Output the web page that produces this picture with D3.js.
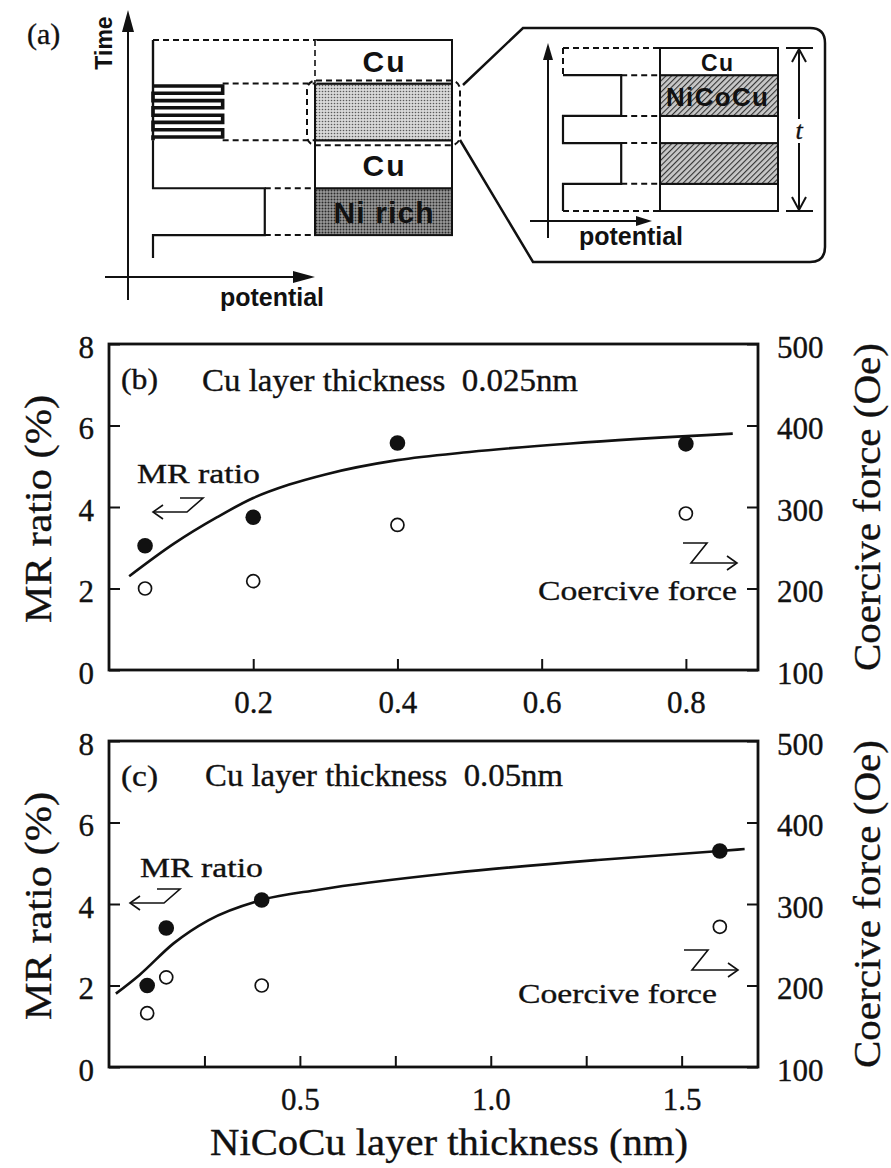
<!DOCTYPE html>
<html>
<head>
<meta charset="utf-8">
<title>MR ratio and coercive force vs NiCoCu layer thickness</title>
<script src="https://d3js.org/d3.v7.min.js"></script>
<style>
    body { margin: 0; background: #fff; }
    svg { display: block; }
    .serif { font-family: "Liberation Serif", "Times New Roman", serif; fill: #111; stroke: #111; stroke-width: 0.35; }
    .sans { font-family: "Liberation Sans", Arial, sans-serif; font-weight: bold; fill: #111; }
</style>
</head>
<body>
<div id="chart"></div>
<script>
    // panel (b): Cu layer thickness 0.025 nm
    var thickB = [0.05, 0.2, 0.4, 0.8];
    var mrB = [3.05, 3.75, 5.57, 5.55];
    var hcB = [200, 209, 278, 292];
    var fitThickB = [0.028, 0.09, 0.15, 0.2, 0.25, 0.3, 0.4, 0.5, 0.64, 0.865];
    var fitMrB = [2.3, 3.1, 3.75, 4.22, 4.55, 4.8, 5.15, 5.35, 5.56, 5.8];

    // panel (c): Cu layer thickness 0.05 nm
    var thickC = [0.1, 0.15, 0.4, 1.6];
    var mrC = [2.0, 3.41, 4.1, 5.3];
    var hcC = [166, 210, 200, 272];
    var fitThickC = [0.018, 0.08, 0.17, 0.26, 0.4, 0.55, 0.9, 1.28, 1.6, 1.665];
    var fitMrC = [1.8, 2.26, 3.04, 3.6, 4.1, 4.35, 4.76, 5.08, 5.3, 5.35];

    var ticksB = [0.2, 0.4, 0.6, 0.8];
    var ticksC = [0.25, 0.5, 0.75, 1.0, 1.25, 1.5];
    var ticksMR = [0, 2, 4, 6, 8];
    var ticksHc = [100, 200, 300, 400, 500];

    // panel (a): schematic of the deposition sequence (bottom to top)
    var layerNamesA = ["Ni rich", "Cu", "", "Cu"];
    var layerFillA = ["dark", "white", "light", "white"];
    var layerTimeA = [10.5, 32, 54, 80, 100];
    var layerPotA = [0.69, 0, 0.43, 0];
    var pulseTimeA = [55.5, 58.8, 62.2, 65.5, 68.9, 72.2, 75.6, 78.9];
    var insetNames = ["", "", "", "NiCoCu", "Cu"];
    var insetFill = ["white", "hatch", "white", "hatch", "white"];
    var insetTime = [0, 1, 2.5, 3.5, 5, 6];
    var insetPot = [0, 0.6, 0, 0.6, 0];

    var W = 891, H = 1168, INK = "#111";
    var svg = d3.select("#chart").append("svg").attr("width", W).attr("height", H);
    var defs = svg.append("defs");

    function dotPattern(id, bg, dot, r) {
        var p = defs.append("pattern").attr("id", id).attr("width", 3).attr("height", 3)
            .attr("patternUnits", "userSpaceOnUse");
        p.append("rect").attr("width", 3).attr("height", 3).attr("fill", bg);
        p.append("circle").attr("cx", 1.5).attr("cy", 1.5).attr("r", r).attr("fill", dot);
    }
    dotPattern("light", "#d8d8d8", "#5a5a5a", 0.8);
    dotPattern("dark", "#9a9a9a", "#2a2a2a", 1.0);
    var hp = defs.append("pattern").attr("id", "hatch").attr("width", 4).attr("height", 4)
        .attr("patternUnits", "userSpaceOnUse").attr("patternTransform", "rotate(45)");
    hp.append("rect").attr("width", 4).attr("height", 4).attr("fill", "#c8c8c8");
    hp.append("line").attr("x1", 0).attr("y1", 0).attr("x2", 0).attr("y2", 4)
        .attr("stroke", "#333").attr("stroke-width", 2.2);

    function fillOf(k) {
        return k == "white" ? "#fff" : "url(#" + k + ")";
    }

    function line(g, pts, dashed, w) {
        g.append("path").attr("d", d3.line()(pts)).attr("fill", "none")
            .attr("stroke", INK).attr("stroke-width", w || 2)
            .attr("stroke-dasharray", dashed ? "6,4" : null);
    }

    function tri(g, pts) {
        g.append("path").attr("d", d3.line()(pts) + "Z").attr("fill", INK);
    }

    // ---------- (a) ----------
    var ga = svg.append("g");
    var aT = d3.scaleLinear().domain([0, 100]).range([258, 40]);
    var aP = d3.scaleLinear().domain([0, 1]).range([153, 315]);
    var boxR = 452;

    ga.append("text").attr("class", "serif").attr("x", 27).attr("y", 44)
        .attr("font-size", 30).text("(a)");

    // layer stack
    layerNamesA.forEach(function(name, i) {
        var y0 = aT(layerTimeA[i + 1]), y1 = aT(layerTimeA[i]);
        ga.append("rect").attr("x", aP(1)).attr("y", y0).attr("width", boxR - aP(1))
            .attr("height", y1 - y0).attr("fill", fillOf(layerFillA[i]))
            .attr("stroke", INK).attr("stroke-width", 2);
        if (name)
            ga.append("text").attr("class", "sans").attr("x", (aP(1) + boxR) / 2)
                .attr("y", y1 - 12).attr("text-anchor", "middle").attr("font-size", 30)
                .attr("textLength", name.length > 3 ? 100 : 42).text(name);
    });
    // top cu layer has a dashed left edge
    ga.append("line").attr("x1", aP(1)).attr("x2", aP(1)).attr("y1", aT(100)).attr("y2", aT(80))
        .attr("stroke", "#fff").attr("stroke-width", 3);
    line(ga, [[aP(1), aT(100)], [aP(1), aT(80)]], true, 1.6);

    // waveform: Ni rich pulse, Cu, pulse train, Cu
    var wave = [[aP(0), aT(0)], [aP(0), aT(layerTimeA[0])],
        [aP(layerPotA[0]), aT(layerTimeA[0])], [aP(layerPotA[0]), aT(layerTimeA[1])],
        [aP(0), aT(layerTimeA[1])], [aP(0), aT(layerTimeA[2])]];
    line(ga, wave, false, 2.2);
    var train = [[aP(0), aT(layerTimeA[2])]];
    pulseTimeA.forEach(function(t, k) {
        var a = k % 2 == 0 ? 0 : layerPotA[2], b = k % 2 == 0 ? layerPotA[2] : 0;
        train.push([aP(a), aT(t)], [aP(b), aT(t)]);
    });
    line(ga, train, false, 3.6);
    line(ga, [[aP(0), aT(layerTimeA[2])], [aP(0), aT(100)]], false, 2.4);
    line(ga, [[aP(0), aT(100)], [aP(1), aT(100)]], true);
    [1, 2, 3].forEach(function(i) {
        var p = Math.max(layerPotA[i - 1], layerPotA[i]);
        line(ga, [[aP(p), aT(layerTimeA[i])], [aP(1), aT(layerTimeA[i])]], true);
    });
    line(ga, [[aP(layerPotA[0]), aT(layerTimeA[0])], [aP(1), aT(layerTimeA[0])]], true);

    // dashed zoom box round the multilayer
    ga.append("rect").attr("x", 307).attr("y", aT(layerTimeA[3]) - 3).attr("width", 153)
        .attr("height", aT(layerTimeA[2]) - aT(layerTimeA[3]) + 8).attr("rx", 9)
        .attr("fill", "none").attr("stroke", INK).attr("stroke-width", 2)
        .attr("stroke-dasharray", "6,4");

    // axes of (a)
    line(ga, [[128, 300], [128, 28]], false, 2);
    tri(ga, [[128, 10], [122, 32], [134, 32]]);
    line(ga, [[105, 277], [297, 277]], false, 2);
    tri(ga, [[315, 277], [293, 271], [293, 283]]);
    ga.append("text").attr("class", "sans").attr("font-size", 23)
        .attr("transform", "translate(112,43) rotate(-90)").attr("text-anchor", "middle").text("Time");
    ga.append("text").attr("class", "sans").attr("font-size", 25).attr("x", 272).attr("y", 306)
        .attr("text-anchor", "middle").text("potential");

    // callout
    ga.append("path").attr("d", "M463,85 L523,28 L810,28 Q825,28 825,43 L825,247 Q825,262 810,262 L533,262 L460,140")
        .attr("fill", "none").attr("stroke", INK).attr("stroke-width", 2.5);

    // inset
    var iT = d3.scaleLinear().domain([0, 6]).range([211, 48]);
    var iP = d3.scaleLinear().domain([0, 1]).range([563, 660]);
    var iR = 778;
    insetNames.forEach(function(name, i) {
        var y0 = iT(insetTime[i + 1]), y1 = iT(insetTime[i]);
        ga.append("rect").attr("x", iP(1)).attr("y", y0).attr("width", iR - iP(1))
            .attr("height", y1 - y0).attr("fill", fillOf(insetFill[i]))
            .attr("stroke", INK).attr("stroke-width", 2);
    });
    insetNames.forEach(function(name, i) {
        if (!name) return;
        var y1 = iT(insetTime[i]);
        ga.append("text").attr("class", "sans").attr("x", (iP(1) + iR) / 2 - 2)
            .attr("y", y1 - (name == "Cu" ? 4 : 10)).attr("text-anchor", "middle")
            .attr("font-size", name == "Cu" ? 23 : 26)
            .attr("textLength", name == "Cu" ? 32 : 102).text(name);
    });
    var iwave = [];
    insetPot.forEach(function(p, i) {
        iwave.push([iP(p), iT(insetTime[i])], [iP(p), iT(insetTime[i + 1])]);
    });
    iwave.pop();
    line(ga, iwave, false, 2.2);
    line(ga, [[iP(0), iT(6)], [iP(0), iT(5)]], true);
    line(ga, [[iP(0), iT(6)], [iP(1), iT(6)]], true);
    line(ga, [[iP(0), iT(0)], [iP(1), iT(0)]], true);
    [1, 2, 3, 4].forEach(function(i) {
        line(ga, [[iP(0.6), iT(insetTime[i])], [iP(1), iT(insetTime[i])]], true);
    });
    line(ga, [[548, 238], [548, 58]], false, 2);
    tri(ga, [[548, 43], [543, 60], [553, 60]]);
    line(ga, [[530, 221], [638, 221]], false, 2);
    tri(ga, [[652, 221], [636, 216], [636, 226]]);
    ga.append("text").attr("class", "sans").attr("font-size", 25).attr("x", 631).attr("y", 245)
        .attr("text-anchor", "middle").text("potential");

    // thickness t
    line(ga, [[786, iT(6)], [813, iT(6)]], false, 2);
    line(ga, [[786, iT(0)], [813, iT(0)]], false, 2);
    line(ga, [[799, iT(6) + 1], [799, 119]], false, 2);
    line(ga, [[799, 143], [799, iT(0) - 1]], false, 2);
    line(ga, [[792, iT(6) + 14], [799, iT(6) + 1], [806, iT(6) + 14]], false, 2);
    line(ga, [[792, iT(0) - 14], [799, iT(0) - 1], [806, iT(0) - 14]], false, 2);
    ga.append("text").attr("class", "serif").attr("font-style", "italic").attr("font-size", 26)
        .attr("x", 799).attr("y", 139).attr("text-anchor", "middle").text("t");

    // ---------- (b), (c) ----------
    function zArrow(g, x0, yTop, yBot, dir) {
        if (dir < 0) {
            line(g, [[x0 + 27, yTop], [x0 + 50, yTop], [x0 + 34, yBot], [x0, yBot]], false, 1.6);
            line(g, [[x0 + 10, yBot - 7], [x0, yBot], [x0 + 10, yBot + 7]], false, 1.6);
        } else {
            line(g, [[x0, yTop], [x0 + 24, yTop], [x0 + 8, yBot], [x0 + 54, yBot]], false, 1.6);
            line(g, [[x0 + 44, yBot - 7], [x0 + 54, yBot], [x0 + 44, yBot + 7]], false, 1.6);
        }
    }

    function txt(g, s, x, y, size, len, anchor) {
        return g.append("text").attr("class", "serif").attr("x", x).attr("y", y)
            .attr("font-size", size).attr("text-anchor", anchor || "start")
            .attr("textLength", len).attr("lengthAdjust", "spacingAndGlyphs")
            .attr("xml:space", "preserve").style("white-space", "pre").text(s);
    }

    function styleAxis(sel) {
        sel.select(".domain").remove();
        sel.attr("font-family", null).attr("font-size", null);
        sel.selectAll(".tick line").attr("stroke", INK).attr("stroke-width", 2);
        sel.selectAll(".tick text").attr("class", "serif").attr("font-size", 31);
    }

    function drawPanel(o) {
        var L = 109, R = 758;
        var x = d3.scaleLinear().domain(o.xDomain).range([L, R]);
        var yL = d3.scaleLinear().domain([0, 8]).range([o.bottom, o.top]);
        var yR = d3.scaleLinear().domain([100, 500]).range([o.bottom, o.top]);
        var g = svg.append("g");

        g.append("g").attr("transform", "translate(0," + o.bottom + ")")
            .call(d3.axisBottom(x).tickValues(o.xTicks).tickFormat(o.xFormat)
                .tickSizeInner(-11).tickSizeOuter(0).tickPadding(21))
            .call(styleAxis);
        g.append("g").attr("transform", "translate(" + L + ",0)")
            .call(d3.axisLeft(yL).tickValues(ticksMR).tickFormat(d3.format("d"))
                .tickSizeInner(-11).tickSizeOuter(0).tickPadding(15))
            .call(styleAxis)
            .selectAll(".tick text").attr("dy", "0.42em");
        g.append("g").attr("transform", "translate(" + R + ",0)")
            .call(d3.axisRight(yR).tickValues(ticksHc).tickFormat(d3.format("d"))
                .tickSizeInner(-11).tickSizeOuter(0).tickPadding(19))
            .call(styleAxis)
            .selectAll(".tick text").attr("dy", "0.42em");

        g.append("rect").attr("x", L).attr("y", o.top).attr("width", R - L)
            .attr("height", o.bottom - o.top).attr("fill", "none")
            .attr("stroke", INK).attr("stroke-width", 2.8);

        // fitted curve of the MR ratio
        g.append("path").datum(d3.zip(o.fitX, o.fitY))
            .attr("d", d3.line().x(function(d) { return x(d[0]); })
                .y(function(d) { return yL(d[1]); }).curve(d3.curveMonotoneX))
            .attr("fill", "none").attr("stroke", INK).attr("stroke-width", 2.6);

        g.selectAll(".hc").data(d3.zip(o.thick, o.hc)).enter().append("circle")
            .attr("cx", function(d) { return x(d[0]); }).attr("cy", function(d) { return yR(d[1]); })
            .attr("r", 6.5).attr("fill", "#fff").attr("stroke", INK).attr("stroke-width", 1.7);
        g.selectAll(".mr").data(d3.zip(o.thick, o.mr)).enter().append("circle")
            .attr("cx", function(d) { return x(d[0]); }).attr("cy", function(d) { return yL(d[1]); })
            .attr("r", 7.8).attr("fill", INK);

        // labels
        txt(g, o.tag, 121, o.top + 45, 30, 37);
        txt(g, o.note, o.noteX, o.top + o.noteDy, 31, o.noteLen);
        txt(g, "MR ratio", o.mrX, o.mrY, 27, 123);
        zArrow(g, o.mrArrowX, o.mrArrowY - 14, o.mrArrowY, -1);
        txt(g, "Coercive force", o.hcX, o.hcY, 28, 199, "end");
        zArrow(g, o.hcArrowX, o.hcArrowY - 20, o.hcArrowY, 1);

        var mid = (o.top + o.bottom) / 2;
        g.append("text").attr("class", "serif").attr("font-size", 38)
            .attr("transform", "translate(51," + (mid + 2) + ") rotate(-90)")
            .attr("text-anchor", "middle").attr("textLength", 228)
            .attr("lengthAdjust", "spacingAndGlyphs").text("MR ratio (%)");
        g.append("text").attr("class", "serif").attr("font-size", 38)
            .attr("transform", "translate(880," + mid + ") rotate(-90)")
            .attr("text-anchor", "middle").attr("textLength", 328)
            .attr("lengthAdjust", "spacingAndGlyphs").text("Coercive force (Oe)");
    }

    drawPanel({
        top: 344, bottom: 670, xDomain: [0, 0.9], xTicks: ticksB, xFormat: d3.format(".1f"),
        thick: thickB, mr: mrB, hc: hcB, fitX: fitThickB, fitY: fitMrB,
        tag: "(b)", note: "Cu layer thickness  0.025nm", noteX: 202, noteDy: 47, noteLen: 376,
        mrX: 137, mrY: 483, mrArrowX: 153, mrArrowY: 512,
        hcX: 737, hcY: 600, hcArrowX: 683, hcArrowY: 563
    });
    drawPanel({
        top: 741, bottom: 1067, xDomain: [0, 1.7], xTicks: ticksC,
        xFormat: function(d) { return (d * 2) % 1 === 0 ? d.toFixed(1) : ""; },
        thick: thickC, mr: mrC, hc: hcC, fitX: fitThickC, fitY: fitMrC,
        tag: "(c)", note: "Cu layer thickness  0.05nm", noteX: 205, noteDy: 45, noteLen: 358,
        mrX: 140, mrY: 877, mrArrowX: 130, mrArrowY: 903,
        hcX: 717, hcY: 1003, hcArrowX: 684, hcArrowY: 970
    });

    svg.append("text").attr("class", "serif").attr("font-size", 37)
        .attr("x", 449).attr("y", 1155).attr("text-anchor", "middle")
        .attr("textLength", 478).attr("lengthAdjust", "spacingAndGlyphs")
        .text("NiCoCu layer thickness (nm)");
</script>
</body>
</html>
